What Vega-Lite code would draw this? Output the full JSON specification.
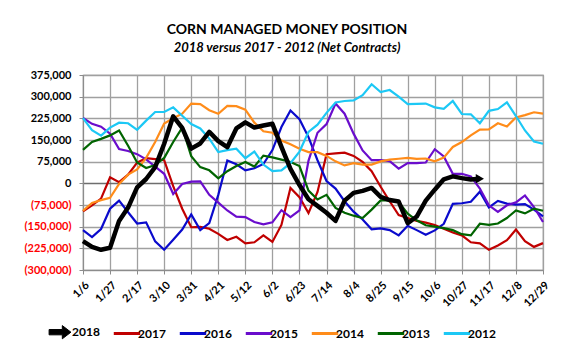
{
  "$schema": "https://vega.github.io/schema/vega-lite/v6.json",
  "width": 460,
  "height": 195,
  "autosize": {"type": "none"},
  "padding": {"left": 83, "top": 75, "right": 32, "bottom": 86},
  "background": "white",
  "config": {"font": "Lato", "view": {"stroke": "#8c8c8c", "strokeWidth": 1.2}},
  "title": {
    "text": "CORN MANAGED MONEY POSITION",
    "subtitle": "2018 versus 2017 - 2012 (Net Contracts)",
    "anchor": "middle",
    "dx": -26,
    "offset": 14,
    "fontSize": 14,
    "fontWeight": "bold",
    "color": "#000000",
    "subtitleFontSize": 13,
    "subtitleFontStyle": "italic",
    "subtitleFontWeight": "bold",
    "subtitleColor": "#000000",
    "subtitlePadding": 5
  },
  "data": {"values": [
    {"week":"1/6","year":"2017","net":-97000},{"week":"1/13","year":"2017","net":-76000},{"week":"1/20","year":"2017","net":-53000},{"week":"1/27","year":"2017","net":21000},{"week":"2/3","year":"2017","net":4000},{"week":"2/10","year":"2017","net":30000},{"week":"2/17","year":"2017","net":72000},{"week":"2/24","year":"2017","net":87000},{"week":"3/3","year":"2017","net":84000},{"week":"3/10","year":"2017","net":80000},
    {"week":"3/17","year":"2017","net":-10000},{"week":"3/24","year":"2017","net":-88000},{"week":"3/31","year":"2017","net":-152000},{"week":"4/7","year":"2017","net":-151000},{"week":"4/14","year":"2017","net":-157000},{"week":"4/21","year":"2017","net":-175000},{"week":"4/28","year":"2017","net":-196000},{"week":"5/5","year":"2017","net":-185000},{"week":"5/12","year":"2017","net":-208000},{"week":"5/19","year":"2017","net":-204000},
    {"week":"5/26","year":"2017","net":-180000},{"week":"6/2","year":"2017","net":-203000},{"week":"6/9","year":"2017","net":-144000},{"week":"6/16","year":"2017","net":-16000},{"week":"6/23","year":"2017","net":-48000},{"week":"6/30","year":"2017","net":-103000},{"week":"7/7","year":"2017","net":-30000},{"week":"7/14","year":"2017","net":101000},{"week":"7/21","year":"2017","net":104000},{"week":"7/28","year":"2017","net":106000},
    {"week":"8/4","year":"2017","net":95000},{"week":"8/11","year":"2017","net":74000},{"week":"8/18","year":"2017","net":42000},{"week":"8/25","year":"2017","net":-12000},{"week":"9/1","year":"2017","net":-62000},{"week":"9/8","year":"2017","net":-110000},{"week":"9/15","year":"2017","net":-120000},{"week":"9/22","year":"2017","net":-130000},{"week":"9/29","year":"2017","net":-136000},{"week":"10/6","year":"2017","net":-144000},
    {"week":"10/13","year":"2017","net":-157000},{"week":"10/20","year":"2017","net":-170000},{"week":"10/27","year":"2017","net":-180000},{"week":"11/3","year":"2017","net":-204000},{"week":"11/10","year":"2017","net":-208000},{"week":"11/17","year":"2017","net":-230000},{"week":"11/24","year":"2017","net":-215000},{"week":"12/1","year":"2017","net":-197000},{"week":"12/8","year":"2017","net":-160000},{"week":"12/15","year":"2017","net":-200000},
    {"week":"12/22","year":"2017","net":-220000},{"week":"12/29","year":"2017","net":-207000},

    {"week":"1/6","year":"2016","net":-162000},{"week":"1/13","year":"2016","net":-186000},{"week":"1/20","year":"2016","net":-158000},{"week":"1/27","year":"2016","net":-88000},{"week":"2/3","year":"2016","net":-60000},{"week":"2/10","year":"2016","net":-100000},{"week":"2/17","year":"2016","net":-139000},{"week":"2/24","year":"2016","net":-135000},{"week":"3/3","year":"2016","net":-201000},{"week":"3/10","year":"2016","net":-230000},
    {"week":"3/17","year":"2016","net":-195000},{"week":"3/24","year":"2016","net":-160000},{"week":"3/31","year":"2016","net":-108000},{"week":"4/7","year":"2016","net":-162000},{"week":"4/14","year":"2016","net":-138000},{"week":"4/21","year":"2016","net":-40000},{"week":"4/28","year":"2016","net":79000},{"week":"5/5","year":"2016","net":66000},{"week":"5/12","year":"2016","net":45000},{"week":"5/19","year":"2016","net":52000},
    {"week":"5/26","year":"2016","net":67000},{"week":"6/2","year":"2016","net":115000},{"week":"6/9","year":"2016","net":195000},{"week":"6/16","year":"2016","net":252000},{"week":"6/23","year":"2016","net":222000},{"week":"6/30","year":"2016","net":160000},{"week":"7/7","year":"2016","net":80000},{"week":"7/14","year":"2016","net":8000},{"week":"7/21","year":"2016","net":-18000},{"week":"7/28","year":"2016","net":-62000},
    {"week":"8/4","year":"2016","net":-98000},{"week":"8/11","year":"2016","net":-125000},{"week":"8/18","year":"2016","net":-159000},{"week":"8/25","year":"2016","net":-156000},{"week":"9/1","year":"2016","net":-162000},{"week":"9/8","year":"2016","net":-180000},{"week":"9/15","year":"2016","net":-147000},{"week":"9/22","year":"2016","net":-162000},{"week":"9/29","year":"2016","net":-178000},{"week":"10/6","year":"2016","net":-163000},
    {"week":"10/13","year":"2016","net":-140000},{"week":"10/20","year":"2016","net":-71000},{"week":"10/27","year":"2016","net":-69000},{"week":"11/3","year":"2016","net":-64000},{"week":"11/10","year":"2016","net":-29000},{"week":"11/17","year":"2016","net":-83000},{"week":"11/24","year":"2016","net":-61000},{"week":"12/1","year":"2016","net":-70000},{"week":"12/8","year":"2016","net":-74000},{"week":"12/15","year":"2016","net":-72000},
    {"week":"12/22","year":"2016","net":-91000},{"week":"12/29","year":"2016","net":-114000},

    {"week":"1/6","year":"2015","net":226000},{"week":"1/13","year":"2015","net":206000},{"week":"1/20","year":"2015","net":196000},{"week":"1/27","year":"2015","net":172000},{"week":"2/3","year":"2015","net":119000},{"week":"2/10","year":"2015","net":112000},{"week":"2/17","year":"2015","net":101000},{"week":"2/24","year":"2015","net":83000},{"week":"3/3","year":"2015","net":58000},{"week":"3/10","year":"2015","net":33000},
    {"week":"3/17","year":"2015","net":-37000},{"week":"3/24","year":"2015","net":-2000},{"week":"3/31","year":"2015","net":6000},{"week":"4/7","year":"2015","net":7000},{"week":"4/14","year":"2015","net":-40000},{"week":"4/21","year":"2015","net":-67000},{"week":"4/28","year":"2015","net":-94000},{"week":"5/5","year":"2015","net":-115000},{"week":"5/12","year":"2015","net":-117000},{"week":"5/19","year":"2015","net":-134000},
    {"week":"5/26","year":"2015","net":-142000},{"week":"6/2","year":"2015","net":-135000},{"week":"6/9","year":"2015","net":-93000},{"week":"6/16","year":"2015","net":-117000},{"week":"6/23","year":"2015","net":-94000},{"week":"6/30","year":"2015","net":78000},{"week":"7/7","year":"2015","net":175000},{"week":"7/14","year":"2015","net":205000},{"week":"7/21","year":"2015","net":276000},{"week":"7/28","year":"2015","net":241000},
    {"week":"8/4","year":"2015","net":172000},{"week":"8/11","year":"2015","net":114000},{"week":"8/18","year":"2015","net":80000},{"week":"8/25","year":"2015","net":80000},{"week":"9/1","year":"2015","net":77000},{"week":"9/8","year":"2015","net":51000},{"week":"9/15","year":"2015","net":70000},{"week":"9/22","year":"2015","net":70000},{"week":"9/29","year":"2015","net":72000},{"week":"10/6","year":"2015","net":118000},
    {"week":"10/13","year":"2015","net":93000},{"week":"10/20","year":"2015","net":33000},{"week":"10/27","year":"2015","net":33000},{"week":"11/3","year":"2015","net":24000},{"week":"11/10","year":"2015","net":-18000},{"week":"11/17","year":"2015","net":-76000},{"week":"11/24","year":"2015","net":-99000},{"week":"12/1","year":"2015","net":-76000},{"week":"12/8","year":"2015","net":-66000},{"week":"12/15","year":"2015","net":-42000},
    {"week":"12/22","year":"2015","net":-82000},{"week":"12/29","year":"2015","net":-134000},

    {"week":"1/6","year":"2014","net":-95000},{"week":"1/13","year":"2014","net":-68000},{"week":"1/20","year":"2014","net":-58000},{"week":"1/27","year":"2014","net":-50000},{"week":"2/3","year":"2014","net":-2000},{"week":"2/10","year":"2014","net":30000},{"week":"2/17","year":"2014","net":48000},{"week":"2/24","year":"2014","net":88000},{"week":"3/3","year":"2014","net":143000},{"week":"3/10","year":"2014","net":207000},
    {"week":"3/17","year":"2014","net":225000},{"week":"3/24","year":"2014","net":241000},{"week":"3/31","year":"2014","net":276000},{"week":"4/7","year":"2014","net":274000},{"week":"4/14","year":"2014","net":253000},{"week":"4/21","year":"2014","net":241000},{"week":"4/28","year":"2014","net":268000},{"week":"5/5","year":"2014","net":267000},{"week":"5/12","year":"2014","net":255000},{"week":"5/19","year":"2014","net":210000},
    {"week":"5/26","year":"2014","net":180000},{"week":"6/2","year":"2014","net":175000},{"week":"6/9","year":"2014","net":148000},{"week":"6/16","year":"2014","net":135000},{"week":"6/23","year":"2014","net":120000},{"week":"6/30","year":"2014","net":108000},{"week":"7/7","year":"2014","net":108000},{"week":"7/14","year":"2014","net":95000},{"week":"7/21","year":"2014","net":76000},{"week":"7/28","year":"2014","net":62000},
    {"week":"8/4","year":"2014","net":70000},{"week":"8/11","year":"2014","net":65000},{"week":"8/18","year":"2014","net":65000},{"week":"8/25","year":"2014","net":76000},{"week":"9/1","year":"2014","net":82000},{"week":"9/8","year":"2014","net":85000},{"week":"9/15","year":"2014","net":88000},{"week":"9/22","year":"2014","net":85000},{"week":"9/29","year":"2014","net":86000},{"week":"10/6","year":"2014","net":76000},
    {"week":"10/13","year":"2014","net":89000},{"week":"10/20","year":"2014","net":126000},{"week":"10/27","year":"2014","net":143000},{"week":"11/3","year":"2014","net":166000},{"week":"11/10","year":"2014","net":186000},{"week":"11/17","year":"2014","net":187000},{"week":"11/24","year":"2014","net":208000},{"week":"12/1","year":"2014","net":197000},{"week":"12/8","year":"2014","net":228000},{"week":"12/15","year":"2014","net":236000},
    {"week":"12/22","year":"2014","net":246000},{"week":"12/29","year":"2014","net":241000},

    {"week":"1/6","year":"2013","net":116000},{"week":"1/13","year":"2013","net":143000},{"week":"1/20","year":"2013","net":154000},{"week":"1/27","year":"2013","net":166000},{"week":"2/3","year":"2013","net":183000},{"week":"2/10","year":"2013","net":130000},{"week":"2/17","year":"2013","net":72000},{"week":"2/24","year":"2013","net":53000},{"week":"3/3","year":"2013","net":63000},{"week":"3/10","year":"2013","net":88000},
    {"week":"3/17","year":"2013","net":143000},{"week":"3/24","year":"2013","net":193000},{"week":"3/31","year":"2013","net":94000},{"week":"4/7","year":"2013","net":56000},{"week":"4/14","year":"2013","net":45000},{"week":"4/21","year":"2013","net":17000},{"week":"4/28","year":"2013","net":42000},{"week":"5/5","year":"2013","net":60000},{"week":"5/12","year":"2013","net":74000},{"week":"5/19","year":"2013","net":58000},
    {"week":"5/26","year":"2013","net":96000},{"week":"6/2","year":"2013","net":90000},{"week":"6/9","year":"2013","net":82000},{"week":"6/16","year":"2013","net":74000},{"week":"6/23","year":"2013","net":60000},{"week":"6/30","year":"2013","net":-25000},{"week":"7/7","year":"2013","net":-56000},{"week":"7/14","year":"2013","net":-40000},{"week":"7/21","year":"2013","net":-85000},{"week":"7/28","year":"2013","net":-102000},
    {"week":"8/4","year":"2013","net":-112000},{"week":"8/11","year":"2013","net":-120000},{"week":"8/18","year":"2013","net":-91000},{"week":"8/25","year":"2013","net":-59000},{"week":"9/1","year":"2013","net":-59000},{"week":"9/8","year":"2013","net":-65000},{"week":"9/15","year":"2013","net":-105000},{"week":"9/22","year":"2013","net":-128000},{"week":"9/29","year":"2013","net":-145000},{"week":"10/6","year":"2013","net":-150000},
    {"week":"10/13","year":"2013","net":-155000},{"week":"10/20","year":"2013","net":-162000},{"week":"10/27","year":"2013","net":-176000},{"week":"11/3","year":"2013","net":-180000},{"week":"11/10","year":"2013","net":-140000},{"week":"11/17","year":"2013","net":-144000},{"week":"11/24","year":"2013","net":-139000},{"week":"12/1","year":"2013","net":-120000},{"week":"12/8","year":"2013","net":-94000},{"week":"12/15","year":"2013","net":-104000},
    {"week":"12/22","year":"2013","net":-88000},{"week":"12/29","year":"2013","net":-95000},

    {"week":"1/6","year":"2012","net":226000},{"week":"1/13","year":"2012","net":184000},{"week":"1/20","year":"2012","net":165000},{"week":"1/27","year":"2012","net":193000},{"week":"2/3","year":"2012","net":210000},{"week":"2/10","year":"2012","net":208000},{"week":"2/17","year":"2012","net":185000},{"week":"2/24","year":"2012","net":217000},{"week":"3/3","year":"2012","net":247000},{"week":"3/10","year":"2012","net":247000},
    {"week":"3/17","year":"2012","net":263000},{"week":"3/24","year":"2012","net":234000},{"week":"3/31","year":"2012","net":205000},{"week":"4/7","year":"2012","net":190000},{"week":"4/14","year":"2012","net":155000},{"week":"4/21","year":"2012","net":108000},{"week":"4/28","year":"2012","net":115000},{"week":"5/5","year":"2012","net":120000},{"week":"5/12","year":"2012","net":87000},{"week":"5/19","year":"2012","net":110000},
    {"week":"5/26","year":"2012","net":65000},{"week":"6/2","year":"2012","net":42000},{"week":"6/9","year":"2012","net":45000},{"week":"6/16","year":"2012","net":70000},{"week":"6/23","year":"2012","net":110000},{"week":"6/30","year":"2012","net":178000},{"week":"7/7","year":"2012","net":203000},{"week":"7/14","year":"2012","net":244000},{"week":"7/21","year":"2012","net":280000},{"week":"7/28","year":"2012","net":285000},
    {"week":"8/4","year":"2012","net":287000},{"week":"8/11","year":"2012","net":305000},{"week":"8/18","year":"2012","net":343000},{"week":"8/25","year":"2012","net":316000},{"week":"9/1","year":"2012","net":323000},{"week":"9/8","year":"2012","net":300000},{"week":"9/15","year":"2012","net":274000},{"week":"9/22","year":"2012","net":275000},{"week":"9/29","year":"2012","net":276000},{"week":"10/6","year":"2012","net":263000},
    {"week":"10/13","year":"2012","net":258000},{"week":"10/20","year":"2012","net":285000},{"week":"10/27","year":"2012","net":240000},{"week":"11/3","year":"2012","net":239000},{"week":"11/10","year":"2012","net":208000},{"week":"11/17","year":"2012","net":251000},{"week":"11/24","year":"2012","net":257000},{"week":"12/1","year":"2012","net":280000},{"week":"12/8","year":"2012","net":233000},{"week":"12/15","year":"2012","net":183000},
    {"week":"12/22","year":"2012","net":145000},{"week":"12/29","year":"2012","net":137000},

    {"week":"1/6","year":"2018","net":-200000},{"week":"1/13","year":"2018","net":-220000},{"week":"1/20","year":"2018","net":-230000},{"week":"1/27","year":"2018","net":-223000},{"week":"2/3","year":"2018","net":-130000},{"week":"2/10","year":"2018","net":-84000},{"week":"2/17","year":"2018","net":-14000},{"week":"2/24","year":"2018","net":15000},{"week":"3/3","year":"2018","net":56000},{"week":"3/10","year":"2018","net":137000},
    {"week":"3/17","year":"2018","net":232000},{"week":"3/24","year":"2018","net":192000},{"week":"3/31","year":"2018","net":120000},{"week":"4/7","year":"2018","net":138000},{"week":"4/14","year":"2018","net":178000},{"week":"4/21","year":"2018","net":146000},{"week":"4/28","year":"2018","net":125000},{"week":"5/5","year":"2018","net":190000},{"week":"5/12","year":"2018","net":211000},{"week":"5/19","year":"2018","net":193000},
    {"week":"5/26","year":"2018","net":200000},{"week":"6/2","year":"2018","net":206000},{"week":"6/9","year":"2018","net":126000},{"week":"6/16","year":"2018","net":50000},{"week":"6/23","year":"2018","net":-6000},{"week":"6/30","year":"2018","net":-55000},{"week":"7/7","year":"2018","net":-78000},{"week":"7/14","year":"2018","net":-102000},{"week":"7/21","year":"2018","net":-130000},{"week":"7/28","year":"2018","net":-60000},
    {"week":"8/4","year":"2018","net":-33000},{"week":"8/11","year":"2018","net":-26000},{"week":"8/18","year":"2018","net":-16000},{"week":"8/25","year":"2018","net":-47000},{"week":"9/1","year":"2018","net":-58000},{"week":"9/8","year":"2018","net":-63000},{"week":"9/15","year":"2018","net":-138000},{"week":"9/22","year":"2018","net":-115000},{"week":"9/29","year":"2018","net":-60000},{"week":"10/6","year":"2018","net":-22000},
    {"week":"10/13","year":"2018","net":14000},{"week":"10/20","year":"2018","net":24000},{"week":"10/27","year":"2018","net":18000},{"week":"11/3","year":"2018","net":13000},{"week":"11/10","year":"2018","net":16000}
  ]},
  "encoding": {
    "x": {
      "field": "week",
      "type": "ordinal",
      "scale": {"type": "point", "padding": 0, "domain": ["1/6","1/13","1/20","1/27","2/3","2/10","2/17","2/24","3/3","3/10","3/17","3/24","3/31","4/7","4/14","4/21","4/28","5/5","5/12","5/19","5/26","6/2","6/9","6/16","6/23","6/30","7/7","7/14","7/21","7/28","8/4","8/11","8/18","8/25","9/1","9/8","9/15","9/22","9/29","10/6","10/13","10/20","10/27","11/3","11/10","11/17","11/24","12/1","12/8","12/15","12/22","12/29"]},
      "axis": {
        "title": null,
        "values": ["1/6","1/27","2/17","3/10","3/31","4/21","5/12","6/2","6/23","7/14","8/4","8/25","9/15","10/6","10/27","11/17","12/8","12/29"],
        "labelAngle": -45,
        "labelAlign": "right",
        "labelBaseline": "top",
        "labelPadding": 5,
        "labelFontSize": 11,
        "labelFontWeight": "bold",
        "labelColor": "#000000",
        "grid": true,
        "gridColor": "#a0a0a0",
        "gridWidth": 1.3,
        "domainColor": "#8c8c8c",
        "tickColor": "#8c8c8c",
        "tickSize": 4
      }
    },
    "y": {
      "field": "net",
      "type": "quantitative",
      "scale": {"domain": [-300000, 375000], "nice": false, "zero": false},
      "axis": {
        "title": null,
        "values": [-300000,-225000,-150000,-75000,0,75000,150000,225000,300000,375000],
        "labelExpr": "datum.value < 0 ? '(' + format(-datum.value, ',') + ')' : format(datum.value, ',')",
        "labelColor": {"condition": {"test": "datum.value < 0", "value": "#FF0000"}, "value": "#000000"},
        "labelFontSize": 11,
        "labelFontWeight": "bold",
        "labelPadding": 8,
        "grid": true,
        "gridColor": {"condition": {"test": "datum.value === 0", "value": "#6e6e6e"}, "value": "#a0a0a0"},
        "gridWidth": 1.3,
        "domainColor": "#8c8c8c",
        "tickColor": "#8c8c8c",
        "tickSize": 4
      }
    }
  },
  "layer": [
    {
      "transform": [{"filter": "datum.year !== '2018'"}],
      "mark": {"type": "line", "strokeWidth": 2.2},
      "encoding": {
        "color": {
          "field": "year",
          "type": "nominal",
          "scale": {"domain": ["2018","2017","2016","2015","2014","2013","2012"], "range": ["#000000","#C00000","#0A0ACC","#6A0DCC","#FF8C1A","#006400","#1CC8F5"]},
          "legend": {
            "title": null,
            "orient": "none",
            "legendX": -28,
            "legendY": 251,
            "direction": "horizontal",
            "symbolType": "stroke",
            "symbolSize": 700,
            "symbolStrokeWidth": 3,
            "labelFontSize": 12,
            "labelFontWeight": "bold",
            "labelColor": "#000000",
            "labelOffset": 5,
            "columnPadding": 7,
            "encode": {
              "symbols": {
                "update": {
                  "shape": {"signal": "datum.value === '2018' ? 'M-0.9,-0.2L0.1,-0.2L0.1,-0.5L0.75,0L0.1,0.5L0.1,0.2L-0.9,0.2Z' : 'stroke'"},
                  "fill": {"signal": "datum.value === '2018' ? '#000000' : 'transparent'"},
                  "strokeWidth": {"signal": "datum.value === '2018' ? 1 : 3"}
                }
              }
            }
          }
        }
      }
    },
    {
      "transform": [{"filter": "datum.year === '2018'"}],
      "mark": {"type": "line", "strokeWidth": 4.5, "strokeJoin": "round"},
      "encoding": {"color": {"field": "year", "type": "nominal"}}
    },
    {
      "transform": [{"filter": "datum.year === '2018' && datum.week === '11/10'"}],
      "mark": {"type": "point", "shape": "triangle-right", "filled": true, "size": 90, "color": "#000000", "opacity": 1}
    }
  ]
}
